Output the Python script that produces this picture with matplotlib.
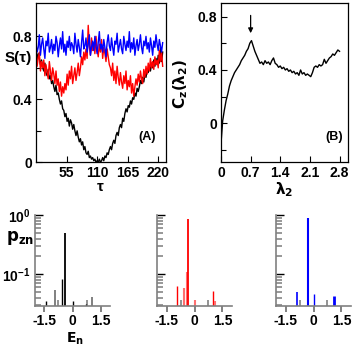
import numpy as np
import matplotlib
matplotlib.use("Agg")
import matplotlib.pyplot as plt
from matplotlib.ticker import FixedLocator, LogLocator, NullFormatter

plt.rcParams['font.family'] = ['Liberation Sans', 'DejaVu Sans']
plt.rcParams['font.weight'] = 'bold'
plt.rcParams['mathtext.default'] = 'regular'

# ---------------- data ----------------
tau = np.arange(0, 229, 2)
s_black = [0.72, 0.65, 0.69, 0.66, 0.62, 0.65, 0.60, 0.58, 0.63, 0.57,
           0.55, 0.59, 0.53, 0.55, 0.50, 0.52, 0.48, 0.45, 0.49, 0.43,
           0.44, 0.40, 0.37, 0.39, 0.34, 0.33, 0.29, 0.31, 0.26, 0.28,
           0.23, 0.27, 0.25, 0.21, 0.24, 0.20, 0.17, 0.20, 0.16, 0.13,
           0.15, 0.11, 0.13, 0.08, 0.10, 0.06, 0.05, 0.07, 0.03, 0.04,
           0.02, 0.03, 0.01, 0.02, 0.00, 0.01, 0.00, 0.02, 0.00, 0.01,
           0.03, 0.01, 0.04, 0.03, 0.06, 0.05, 0.08, 0.10, 0.08, 0.12,
           0.14, 0.12, 0.17, 0.19, 0.17, 0.22, 0.24, 0.22, 0.28, 0.26,
           0.31, 0.34, 0.32, 0.36, 0.35, 0.39, 0.37, 0.41, 0.40, 0.44,
           0.42, 0.47, 0.45, 0.48, 0.52, 0.50, 0.54, 0.51, 0.56, 0.54,
           0.59, 0.57, 0.61, 0.58, 0.63, 0.60, 0.65, 0.61, 0.66, 0.62,
           0.68, 0.63, 0.73, 0.64, 0.70]
s_blue = [0.76, 0.70, 0.73, 0.81, 0.68, 0.75, 0.79, 0.72, 0.66, 0.77,
          0.74, 0.82, 0.70, 0.73, 0.78, 0.69, 0.75, 0.71, 0.80, 0.76,
          0.67, 0.74, 0.79, 0.72, 0.83, 0.70, 0.75, 0.68, 0.77, 0.73,
          0.80, 0.71, 0.76, 0.74, 0.69, 0.82, 0.75, 0.70, 0.78, 0.73,
          0.67, 0.76, 0.84, 0.72, 0.74, 0.79, 0.70, 0.75, 0.81, 0.68,
          0.73, 0.77, 0.71, 0.80, 0.74, 0.69, 0.76, 0.83, 0.72, 0.75,
          0.70, 0.78, 0.73, 0.67, 0.76, 0.81, 0.74, 0.71, 0.79, 0.73,
          0.68, 0.77, 0.75, 0.82, 0.70, 0.74, 0.78, 0.72, 0.69, 0.80,
          0.75, 0.71, 0.77, 0.73, 0.83, 0.70, 0.76, 0.72, 0.79, 0.68,
          0.74, 0.78, 0.71, 0.75, 0.81, 0.73, 0.69, 0.77, 0.74, 0.80,
          0.72, 0.76, 0.70, 0.79, 0.74, 0.68, 0.77, 0.73, 0.81, 0.75,
          0.71, 0.78, 0.74, 0.70, 0.76]
s_red = [0.72, 0.61, 0.66, 0.70, 0.58, 0.64, 0.60,
         0.65, 0.55, 0.62, 0.57, 0.53, 0.64, 0.58, 0.52, 0.60,
         0.56, 0.50, 0.58, 0.49, 0.53, 0.45, 0.51,
         0.42, 0.48, 0.44, 0.50, 0.46,
         0.56, 0.49, 0.58, 0.53, 0.61, 0.50, 0.55, 0.60, 0.52, 0.57, 0.63, 0.55,
         0.60, 0.67, 0.62, 0.70, 0.65, 0.72, 0.66,
         0.87,
         0.74, 0.68, 0.79, 0.71, 0.76, 0.69, 0.80, 0.72, 0.67, 0.75,
         0.70, 0.78, 0.66, 0.73, 0.69, 0.64, 0.72, 0.67, 0.62,
         0.60, 0.55, 0.63, 0.52, 0.58, 0.50, 0.61, 0.54, 0.49, 0.57,
         0.51, 0.47, 0.55, 0.50, 0.58, 0.46, 0.52, 0.48, 0.55,
         0.44, 0.50, 0.42, 0.48,
         0.53, 0.49, 0.56, 0.51, 0.58, 0.53, 0.50, 0.59, 0.54, 0.61, 0.56,
         0.63, 0.58, 0.66, 0.60, 0.64, 0.59, 0.67, 0.62, 0.65,
         0.60, 0.71, 0.64, 0.70, 0.61]

lam = np.linspace(0, 2.8, 71)
cz = [-0.15, 0.02, 0.10, 0.17, 0.22, 0.28, 0.32, 0.35, 0.38, 0.40,
      0.42, 0.44, 0.47, 0.49, 0.51, 0.54, 0.56, 0.60, 0.62, 0.58,
      0.54, 0.51, 0.48, 0.45, 0.46, 0.44, 0.47, 0.45, 0.46, 0.44,
      0.47, 0.49, 0.45, 0.44, 0.42, 0.43, 0.41, 0.42, 0.40, 0.41,
      0.39, 0.40, 0.38, 0.39, 0.37, 0.38, 0.36, 0.40, 0.37, 0.38,
      0.36, 0.37, 0.36, 0.35, 0.38, 0.42, 0.43, 0.42, 0.44, 0.43,
      0.44, 0.48, 0.45, 0.47, 0.49, 0.50, 0.52, 0.51, 0.53, 0.55,
      0.54]
arrow_lam = 0.7

# spectra: energies, probabilities, colours
e_black = [-1.41, -0.96, -0.55, -0.39, 0.0, 0.73, 1.03]
p_black = [0.035, 0.054, 0.082, 0.49, 0.035, 0.031, 0.041]
c_black = ['black', '#808080', 'black', 'black', 'black', 'black', '#808080']
w_black = [1.0, 1.4, 1.0, 1.3, 1.0, 1.0, 1.4]

e_red = [-0.94, -0.55, -0.41, -0.35, 0.0, 0.67, 1.02, 1.11]
p_red = [0.062, 0.059, 0.11, 0.85, 0.037, 0.029, 0.052, 0.035]
c_red = ['red', '#ff7070', '#ff7070', 'red', '#ff7070', 'red', 'red', '#ff7070']
w_red = [1.0, 1.5, 1.5, 1.3, 1.5, 1.0, 1.0, 1.5]

e_blue = [-0.91, -0.29, 0.0, 1.08]
p_blue = [0.05, 0.88, 0.047, 0.042]
c_blue = ['blue', 'blue', 'blue', 'blue']
w_blue = [1.2, 1.5, 1.0, 2.0]

# ---------------- figure ----------------
W = 354
fig = plt.figure(figsize=(3.54, 3.54), dpi=100)

def rect(l, r, t, b):
    return [l / W, 1 - b / W, (r - l) / W, (b - t) / W]

FS = 10

def style_top(ax):
    for s in ax.spines.values():
        s.set_linewidth(0.9)
    ax.tick_params(which='both', direction='in', top=False, right=False,
                   labelsize=FS, width=0.8, pad=3)
    ax.tick_params(which='major', length=4)
    ax.tick_params(which='minor', length=3.5)
    for lab in ax.get_xticklabels() + ax.get_yticklabels():
        lab.set_fontweight('bold')

# Panel A
axA = fig.add_axes(rect(36, 166, 3.3, 162.3))
axA.plot(tau, s_black, color='black', lw=1.0)
axA.plot(tau, s_red, color='red', lw=1.0)
axA.plot(tau, s_blue, color='blue', lw=1.0)
axA.set_xlim(0, 234)
axA.set_ylim(0, 1.01)
axA.set_xticks([55, 110, 165, 220])
axA.set_yticks([0, 0.4, 0.8])
axA.set_yticklabels(['0', '0.4', '0.8'])
axA.yaxis.set_minor_locator(FixedLocator([0.2, 0.6]))
style_top(axA)
axA.text(200, 0.16, '(A)', fontsize=9, fontweight='bold', ha='center', va='center')
fig.text(18 / W, 1 - 58 / W, 'S(τ)', fontsize=11, fontweight='bold', ha='center', va='center')
fig.text(100 / W, 1 - 187 / W, 'τ', fontsize=11, fontweight='bold', ha='center', va='center')

# Panel B
axB = fig.add_axes(rect(221, 348, 3.3, 162))
axB.plot(lam, cz, color='black', lw=1.0)
axB.set_xlim(0, 3.0)
axB.set_ylim(-0.29, 0.9)
axB.set_xticks([0, 0.7, 1.4, 2.1, 2.8])
axB.set_xticklabels(['0', '0.7', '1.4', '2.1', '2.8'])
axB.set_yticks([0, 0.4, 0.8])
axB.set_yticklabels(['0', '0.4', '0.8'])
axB.yaxis.set_minor_locator(FixedLocator([-0.2, 0.2, 0.6]))
style_top(axB)
axB.annotate('', xy=(arrow_lam, 0.655), xytext=(arrow_lam, 0.83),
             arrowprops=dict(arrowstyle='-|>', color='black', lw=0.9,
                             mutation_scale=7))
axB.text(2.67, -0.10, '(B)', fontsize=9, fontweight='bold', ha='center', va='center')
fig.text(181 / W, 1 - 84 / W, r'$\mathbf{C_z(\lambda_2)}$', fontsize=11,
         rotation=90, ha='center', va='center')
fig.text(284 / W, 1 - 190 / W, r'$\mathbf{\lambda_2}$', fontsize=11,
         ha='center', va='center')

# Bottom panels
def style_bottom(ax, show_labels):
    ax.set_yscale('log')
    ax.set_ylim(0.029, 1.0)
    ax.set_xlim(-2.0, 2.0)
    for s in ['top', 'right']:
        ax.spines[s].set_visible(False)
    for s in ['left', 'bottom']:
        ax.spines[s].set_color('#808080')
        ax.spines[s].set_linewidth(1.2)
    ax.set_xticks([-1.5, 0, 1.5])
    ax.set_xticklabels(['-1.5', '0', '1.5'])
    ax.xaxis.set_minor_locator(FixedLocator([-0.75, 0.75]))
    ax.yaxis.set_major_locator(FixedLocator([0.1, 1.0]))
    ax.yaxis.set_minor_locator(LogLocator(base=10, subs=np.arange(2, 10)))
    ax.yaxis.set_minor_formatter(NullFormatter())
    ax.tick_params(axis='x', which='major', direction='out', length=4,
                   width=1.4, color='#808080', labelsize=FS, pad=2)
    ax.tick_params(axis='x', which='minor', direction='in', length=4,
                   width=1.2, color='#808080')
    ax.tick_params(axis='y', which='major', direction='in', length=6,
                   width=1.0, color='black', labelsize=FS)
    ax.tick_params(axis='y', which='minor', direction='in', length=4,
                   width=1.3, color='#909090')
    if show_labels:
        ax.set_yticklabels([r'$10^{-1}$', r'$10^{0}$'])
    else:
        ax.set_yticklabels([])
    for lab in ax.get_xticklabels():
        lab.set_fontweight('bold')

bottoms = [(35, 110, e_black, p_black, c_black, w_black, True),
           (157.3, 231.7, e_red, p_red, c_red, w_red, False),
           (276.3, 350.7, e_blue, p_blue, c_blue, w_blue, False)]
for l, r, es, ps, cs, ws, lab in bottoms:
    ax = fig.add_axes(rect(l, r, 215, 306))
    style_bottom(ax, lab)
    for e, p, c, w in zip(es, ps, cs, ws):
        ax.vlines(e, 0.029, p, colors=c, lw=w)

fig.text(20 / W, 1 - 238 / W, r'$\mathbf{p_{zn}}$', fontsize=12,
         ha='center', va='center')
fig.text(75 / W, 1 - 339 / W, r'$\mathbf{E_n}$', fontsize=10,
         ha='center', va='center')

fig.savefig('out.png', dpi=100)
